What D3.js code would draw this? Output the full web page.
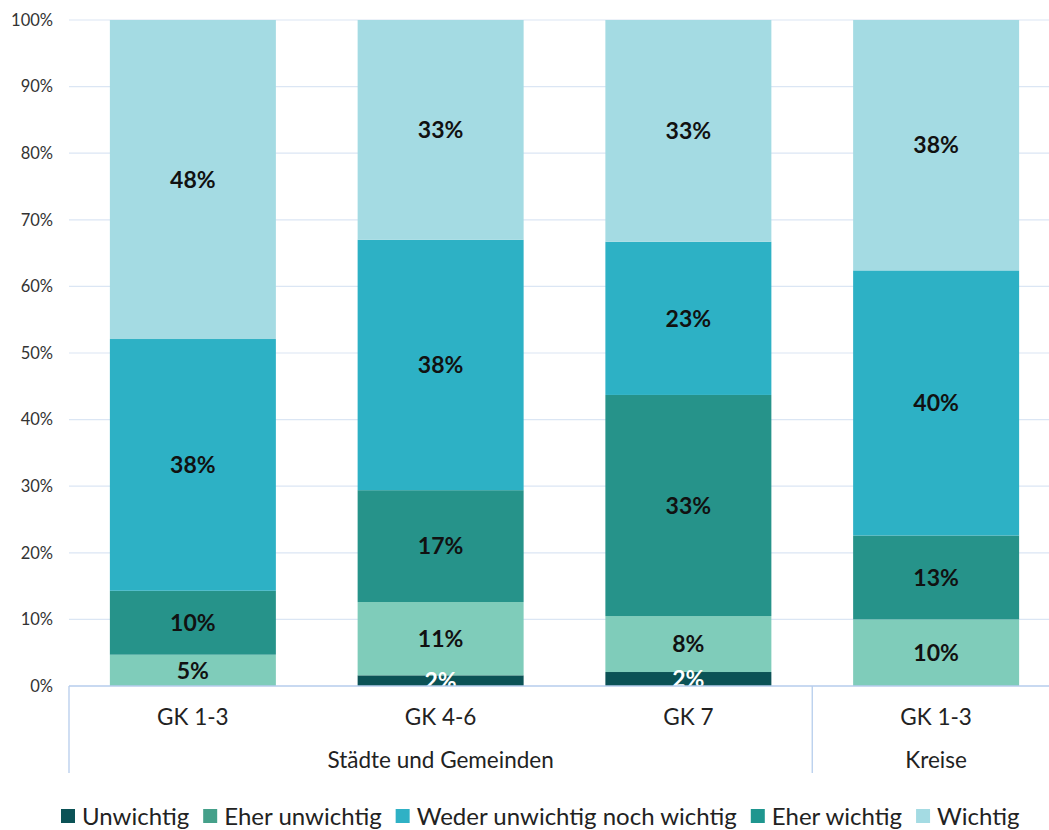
<!DOCTYPE html>
<html>
<head>
<meta charset="utf-8">
<script src="https://cdn.jsdelivr.net/npm/d3@7"></script>
<style>
  html, body { margin: 0; padding: 0; background: #fff; }
  svg { display: block; font-family: Lato, "Open Sans", sans-serif; }
</style>
</head>
<body>
<svg id="chart" width="1049" height="830"></svg>
<script>
// Categories (bars) and their grouping
const categories = ["GK 1-3", "GK 4-6", "GK 7", "GK 1-3 "];
const categoryLabels = ["GK 1-3", "GK 4-6", "GK 7", "GK 1-3"];
const groups = [
  { name: "Städte und Gemeinden", from: 0, to: 2 },
  { name: "Kreise", from: 3, to: 3 }
];

// Answer series, stacked bottom to top (percent of respondents)
const seriesNames = ["Unwichtig", "Eher unwichtig", "Weder unwichtig noch wichtig", "Eher wichtig", "Wichtig"];
const unwichtig      = [0.0, 1.6, 2.1, 0.0];
const eherUnwichtig  = [4.7, 11.0, 8.4, 10.0];
const weder          = [9.6, 16.8, 33.2, 12.6];
const eherWichtig    = [37.8, 37.6, 23.0, 39.8];
const wichtig        = [47.9, 33.0, 33.3, 37.6];
const seriesValues = [unwichtig, eherUnwichtig, weder, eherWichtig, wichtig];

const yTicks = [0, 10, 20, 30, 40, 50, 60, 70, 80, 90, 100];

// Fill colours for bar segments and legend swatches
const barColors    = ["#0b5256", "#7fccba", "#26938a", "#2db1c5", "#a4dbe3"];
const legendColors = ["#0b5256", "#45a08a", "#2fb1c5", "#1f968f", "#a4dbe3"];
const labelColors  = ["#ffffff", "#111111", "#111111", "#111111", "#111111"];

const svg = d3.select("#chart");
const plotLeft = 69, plotRight = 1060, plotTop = 20, plotBottom = 686;

const x = d3.scaleBand().domain(categories).range([plotLeft, plotRight]).paddingInner(0.33).paddingOuter(0.165);
const y = d3.scaleLinear().domain([0, 100]).range([plotBottom, plotTop]);

// Clip region for the plot area (value labels must not spill below the baseline)
svg.append("defs").append("clipPath").attr("id", "plot-clip")
  .append("rect")
  .attr("x", plotLeft).attr("y", plotTop - 20)
  .attr("width", plotRight - plotLeft).attr("height", plotBottom - plotTop + 20);

// Gridlines
svg.append("g")
  .selectAll("line")
  .data(yTicks.filter(d => d > 0))
  .join("line")
  .attr("x1", plotLeft).attr("x2", plotRight)
  .attr("y1", d => y(d)).attr("y2", d => y(d))
  .attr("stroke", "#dbe6f4").attr("stroke-width", 1.2);

// Y axis tick labels
const yAxis = d3.axisLeft(y).tickValues(yTicks).tickFormat(d => d + "%").tickSize(0).tickPadding(16);
const yg = svg.append("g").attr("transform", `translate(${plotLeft},0)`).call(yAxis);
yg.select(".domain").remove();
yg.selectAll("text").attr("font-size", 16.5).attr("fill", "#333").attr("font-family", "Lato, sans-serif");

// Stacked data
const rows = categories.map((c, i) => {
  const r = { cat: c };
  seriesNames.forEach((s, k) => { r[s] = seriesValues[k][i]; });
  return r;
});
const stacked = d3.stack().keys(seriesNames)(rows);

const layer = svg.append("g").selectAll("g")
  .data(stacked)
  .join("g")
  .attr("fill", (d, k) => barColors[k]);

layer.selectAll("rect")
  .data(d => d)
  .join("rect")
  .attr("x", d => x(d.data.cat))
  .attr("width", x.bandwidth())
  .attr("y", d => y(d[1]))
  .attr("height", d => y(d[0]) - y(d[1]));

// Value labels
const fmt = v => Math.round(v) + "%";
const labels = svg.append("g").attr("clip-path", "url(#plot-clip)");
stacked.forEach((s, k) => {
  labels.append("g").selectAll("text")
    .data(s.filter(d => d[1] - d[0] > 0))
    .join("text")
    .attr("x", d => x(d.data.cat) + x.bandwidth() / 2)
    .attr("y", d => (y(d[0]) + y(d[1])) / 2)
    .attr("dy", "0.36em")
    .attr("text-anchor", "middle")
    .attr("font-size", 23)
    .attr("font-weight", "bold")
    .attr("fill", labelColors[k])
    .text(d => fmt(d[1] - d[0]));
});

// Category axis baseline
svg.append("line")
  .attr("x1", plotLeft).attr("x2", plotRight)
  .attr("y1", plotBottom).attr("y2", plotBottom)
  .attr("stroke", "#b6cdec").attr("stroke-width", 1.3);

// Category labels
svg.append("g").selectAll("text")
  .data(categories)
  .join("text")
  .attr("x", d => x(d) + x.bandwidth() / 2)
  .attr("y", 717)
  .attr("dy", "0.36em")
  .attr("text-anchor", "middle")
  .attr("font-size", 22.5)
  .attr("fill", "#222")
  .text((d, i) => categoryLabels[i]);

// Group separators and group labels
const step = x.step();
const bandStart = i => x(categories[i]) - x.paddingInner() * step / 2;
const bandEnd = i => x(categories[i]) + x.bandwidth() + x.paddingInner() * step / 2;
const sepX = [plotLeft, bandEnd(2), plotRight];
svg.append("g").selectAll("line")
  .data(sepX)
  .join("line")
  .attr("x1", d => d).attr("x2", d => d)
  .attr("y1", plotBottom).attr("y2", 773)
  .attr("stroke", "#b6cdec").attr("stroke-width", 1.3);

svg.append("g").selectAll("text")
  .data(groups)
  .join("text")
  .attr("x", g => {
    const a = g.from === 0 ? plotLeft : bandStart(g.from);
    const b = bandEnd(g.to);
    return (a + b) / 2;
  })
  .attr("y", 760)
  .attr("dy", "0.36em")
  .attr("text-anchor", "middle")
  .attr("font-size", 22.5)
  .attr("fill", "#222")
  .text(g => g.name);

// Legend
const legend = svg.append("g").attr("transform", "translate(0,816)");
let lx = 61;
seriesNames.forEach((name, k) => {
  const item = legend.append("g").attr("transform", `translate(${lx},0)`);
  item.append("rect").attr("x", 0).attr("y", -7).attr("width", 14).attr("height", 14).attr("fill", legendColors[k]);
  const t = item.append("text").attr("x", 21).attr("y", 0).attr("dy", "0.36em")
    .attr("font-size", 24).attr("fill", "#222").text(name);
  lx += 21 + t.node().getComputedTextLength() + 14;
});
</script>
</body>
</html>
